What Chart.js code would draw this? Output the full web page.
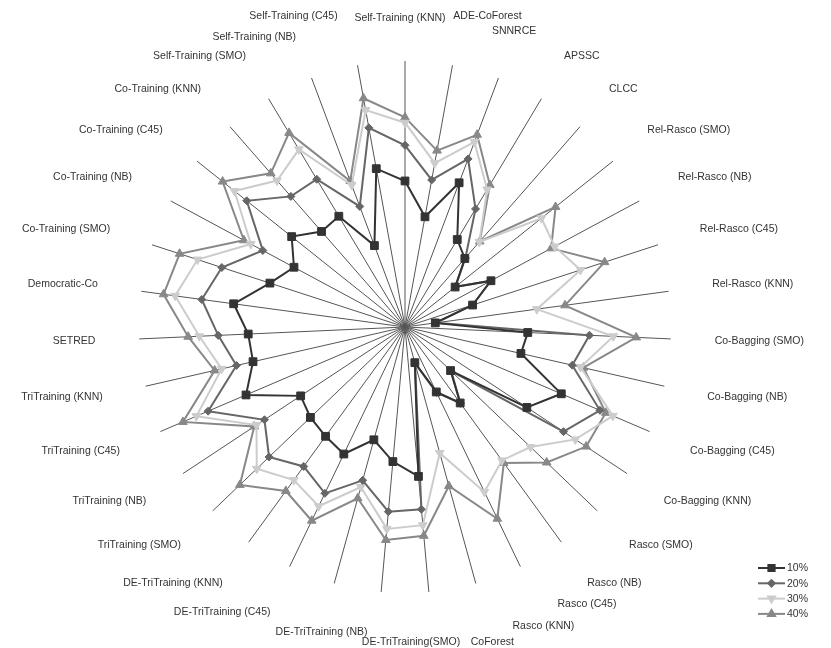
<!DOCTYPE html>
<html>
<head>
<meta charset="utf-8">
<script src="https://cdn.jsdelivr.net/npm/chart.js@4.4.1/dist/chart.umd.min.js"></script>
<style>
  html, body { margin: 0; padding: 0; background: #fff; }
  #wrap { position: relative; width: 831px; height: 648px; }
</style>
</head>
<body>
<div id="wrap"><canvas id="radar" width="831" height="648"></canvas></div>
<script>
const categories = [
    'Self-Training (KNN)', 'ADE-CoForest', 'SNNRCE', 'APSSC', 'CLCC',
    'Rel-Rasco (SMO)', 'Rel-Rasco (NB)', 'Rel-Rasco (C45)', 'Rel-Rasco (KNN)',
    'Co-Bagging (SMO)', 'Co-Bagging (NB)', 'Co-Bagging (C45)', 'Co-Bagging (KNN)',
    'Rasco (SMO)', 'Rasco (NB)', 'Rasco (C45)', 'Rasco (KNN)', 'CoForest',
    'DE-TriTraining(SMO)', 'DE-TriTraining (NB)', 'DE-TriTraining (C45)', 'DE-TriTraining (KNN)',
    'TriTraining (SMO)', 'TriTraining (NB)', 'TriTraining (C45)', 'TriTraining (KNN)',
    'SETRED', 'Democratic-Co',
    'Co-Training (SMO)', 'Co-Training (NB)', 'Co-Training (C45)', 'Co-Training (KNN)',
    'Self-Training (SMO)', 'Self-Training (NB)', 'Self-Training (C45)'
];

const seriesNames = ['10%', '20%', '30%', '40%'];

const s10 = [54.9, 42.1, 57.9, 38.3, 34.2, 24.1, 36.7, 26.7, 11.5, 46.2, 44.7, 63.9, 54.9, 23.7, 35.3, 27.1, 13.9, 56.4,
    50.8, 44.0, 53.0, 50.8, 49.2, 47.0, 65.0, 58.6, 59.0, 65.0, 53.4, 47.4, 54.5, 47.7, 48.5, 32.7, 60.5];
const s20 = [68.3, 56.2, 67.5, 51.7, 34.5, 24.3, 36.5, 26.8, 11.7, 69.4, 64.5, 79.7, 71.4, 24.0, 35.5, 27.3, 14.1, 68.8,
    69.7, 59.8, 69.4, 64.8, 70.7, 63.3, 80.5, 65.0, 70.3, 77.1, 72.4, 60.7, 76.1, 65.2, 64.7, 48.4, 76.1];
const s30 = [76.8, 62.6, 74.3, 60.2, 42.5, 65.6, 63.9, 69.4, 50.0, 78.4, 67.7, 85.0, 76.7, 65.3, 62.0, 68.8, 49.1, 74.8,
    76.2, 62.4, 74.8, 71.1, 77.1, 66.9, 85.3, 70.7, 77.4, 87.2, 82.0, 65.8, 82.0, 73.1, 77.8, 57.0, 82.9];
const s40 = [78.8, 67.4, 77.2, 62.2, 42.7, 72.4, 62.4, 78.9, 60.7, 87.0, 68.8, 82.1, 81.6, 73.7, 63.2, 80.0, 62.0, 78.8,
    80.4, 66.8, 80.8, 76.2, 85.9, 67.9, 90.8, 73.4, 81.6, 91.6, 89.1, 68.8, 87.7, 76.7, 85.0, 58.6, 87.4];

// the original renderer shifted a few crowded labels; [dx, dy] per category index
const labelNudge = {
    0: [-5, 7], 1: [-7, 0], 2: [-22, 0], 15: [18, -8], 16: [25, -6],
    17: [38, 0], 18: [83, 0], 19: [45, 0], 33: [0, 6], 34: [-12, 0]
};

const FONT = '10.5px "Liberation Sans", Arial, sans-serif';

function series(label, data, color, style, radius, rotation) {
    return {
        label: label,
        data: data,
        borderColor: color,
        backgroundColor: color,
        pointBackgroundColor: color,
        pointBorderColor: color,
        borderWidth: 2,
        pointStyle: style,
        pointRadius: radius,
        pointRotation: rotation || 0,
        pointBorderWidth: 1,
        fill: false
    };
}

// spoke labels and the small legend, both drawn after the chart
const decorations = {
    id: 'decorations',
    afterDraw(chart) {
        const scale = chart.scales.r;
        const ctx = chart.ctx;
        ctx.save();
        ctx.font = FONT;
        ctx.fillStyle = '#333';
        ctx.textBaseline = 'middle';

        categories.forEach((name, i) => {
            const p = scale.getPointPosition(i, scale.drawingArea + 44);
            const theta = p.angle + Math.PI / 2;
            const s = Math.sin(theta), c = Math.cos(theta);
            ctx.textAlign = s > 0.05 ? 'left' : (s < -0.05 ? 'right' : 'center');
            const nudge = labelNudge[i] || [0, 0];
            ctx.fillText(name, p.x + nudge[0], p.y - c * 6 + nudge[1]);
        });

        // legend, bottom right
        ctx.textAlign = 'left';
        chart.data.datasets.forEach((ds, i) => {
            const y = 568 + i * 15.3;
            ctx.strokeStyle = ds.borderColor;
            ctx.lineWidth = 2;
            ctx.beginPath();
            ctx.moveTo(758, y);
            ctx.lineTo(785, y);
            ctx.stroke();
            ctx.fillStyle = ds.borderColor;
            Chart.helpers.drawPoint(ctx, {
                pointStyle: ds.pointStyle,
                rotation: ds.pointRotation,
                radius: ds.pointRadius * 0.8,
                borderWidth: 1
            }, 771.5, y);
            ctx.fillStyle = '#333';
            ctx.fillText(ds.label, 787, y + 0.5);
        });
        ctx.restore();
    }
};

const ctx = document.getElementById('radar').getContext('2d');
new Chart(ctx, {
    type: 'radar',
    data: {
        labels: categories,
        datasets: [
            series(seriesNames[0], s10, '#333333', 'rect', 5.5),
            series(seriesNames[1], s20, '#666666', 'rectRot', 4),
            series(seriesNames[2], s30, '#cccccc', 'triangle', 5, 180),
            series(seriesNames[3], s40, '#888888', 'triangle', 5)
        ]
    },
    options: {
        responsive: false,
        animation: false,
        layout: { padding: { left: 0, right: 21, top: 61, bottom: 55 } },
        elements: { line: { tension: 0 } },
        plugins: {
            legend: { display: false },
            tooltip: { enabled: false }
        },
        scales: {
            r: {
                min: 0,
                max: 100,
                ticks: { display: false },
                grid: { display: false },
                angleLines: { display: true, color: '#555555', lineWidth: 1 },
                pointLabels: { display: false }
            }
        }
    },
    plugins: [decorations]
});
</script>
</body>
</html>
